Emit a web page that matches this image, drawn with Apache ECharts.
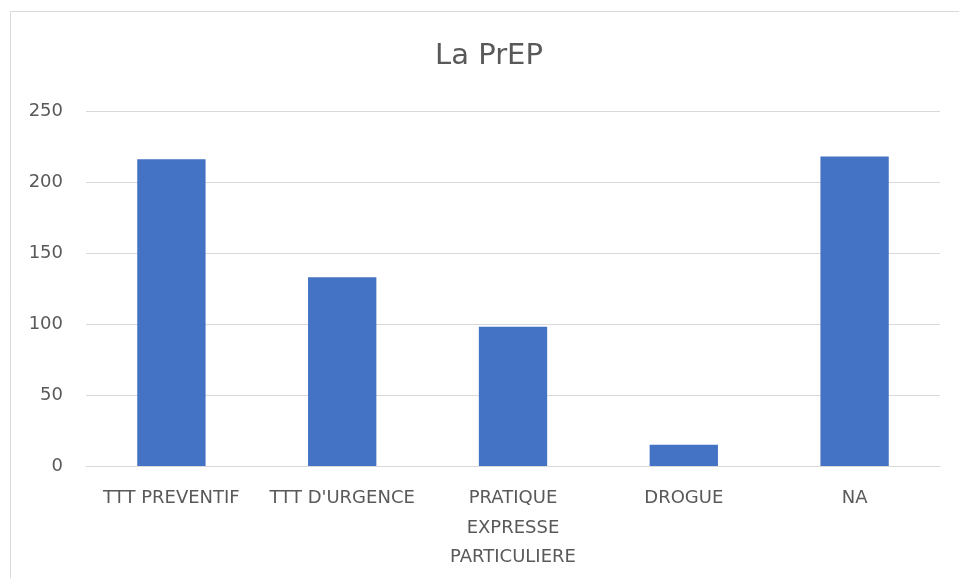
<!DOCTYPE html>
<html>
<head>
<meta charset="utf-8">
<script src="https://cdn.jsdelivr.net/npm/echarts@6/dist/echarts.min.js"></script>
<style>
  html, body { margin: 0; padding: 0; background: #ffffff; overflow: hidden; }
  #chart { width: 959px; height: 578px; }
</style>
</head>
<body>
<div id="chart"></div>
<script>
const titleText = 'La PrEP';
const categories = ['TTT PREVENTIF', "TTT D'URGENCE", 'PRATIQUE EXPRESSE PARTICULIERE', 'DROGUE', 'NA'];
const values = [216, 133, 98, 15, 218];
const yTicks = { min: 0, max: 250, interval: 50 };

const textColor = '#595959';
const gridColor = '#d9d9d9';
const barColor = '#4472C4';
const fontFamily = '"DejaVu Sans", "Open Sans", sans-serif';

const chart = echarts.init(document.getElementById('chart'), null, { renderer: 'canvas' });

chart.setOption({
  backgroundColor: '#ffffff',
  animation: false,
  graphic: [
    {
      // chart area frame (runs off the right and bottom edges)
      type: 'rect',
      shape: { x: 10.5, y: 11.5, width: 1200, height: 800 },
      style: { fill: 'none', stroke: gridColor, lineWidth: 1 },
      silent: true
    },
    {
      // chart title, centred on the frame
      type: 'text',
      x: 489,
      y: 56,
      style: {
        text: titleText,
        fill: textColor,
        font: '29px ' + fontFamily,
        textAlign: 'center',
        textVerticalAlign: 'middle'
      },
      silent: true
    }
  ],
  grid: { left: 86, right: 19, top: 111, bottom: 112, containLabel: false },
  xAxis: {
    type: 'category',
    data: categories,
    axisLine: { show: true, lineStyle: { color: gridColor, width: 1 } },
    axisTick: { show: false },
    axisLabel: {
      color: textColor,
      fontSize: 18,
      fontFamily: fontFamily,
      margin: 18,
      lineHeight: 29.5,
      interval: 0,
      formatter: function (v) { return v.length > 20 ? v.split(' ').join('\n') : v; }
    }
  },
  yAxis: {
    type: 'value',
    min: yTicks.min,
    max: yTicks.max,
    interval: yTicks.interval,
    axisLine: { show: false },
    axisTick: { show: false },
    splitLine: { lineStyle: { color: gridColor, width: 1 } },
    axisLabel: { color: textColor, fontSize: 18, fontFamily: fontFamily, margin: 23 }
  },
  series: [{
    type: 'bar',
    data: values,
    barWidth: '40%',
    itemStyle: { color: barColor }
  }]
});
</script>
</body>
</html>
